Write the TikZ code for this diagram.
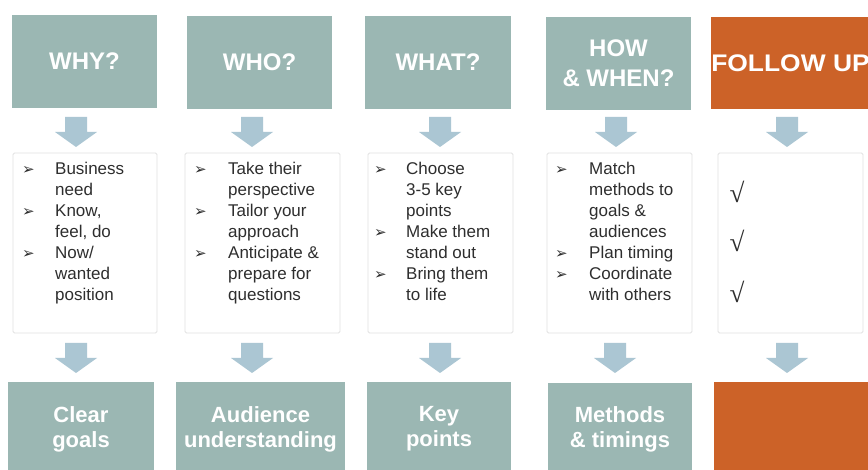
\documentclass[tikz,border=0pt]{standalone}
\usepackage{fontspec}
\setmainfont{Liberation Sans}
\newfontfamily\bulfont{DejaVu Sans}
\newfontfamily\chkfont{Liberation Serif}

\definecolor{sage}{HTML}{9BB7B3}
\definecolor{rust}{HTML}{CC6228}
\definecolor{sky}{HTML}{ABC6D3}
\definecolor{frame}{HTML}{E2E2E2}
\definecolor{ink}{HTML}{2E2E2E}

% list bullet (arrowhead) and tick mark
\newcommand{\bul}{{\bulfont\fontsize{15}{15}\selectfont ➢}}
\newcommand{\tick}{{\chkfont\fontsize{27}{27}\selectfont √}}

\tikzset{
  headbox/.style={fill=sage, text=white, inner sep=0pt, align=center,
    font=\bfseries\fontsize{24}{30}\selectfont,
    minimum height=93pt},
  resultbox/.style={fill=sage, text=white, inner sep=0pt, align=center,
    font=\bfseries\fontsize{22}{25}\selectfont,
    minimum height=88pt},
  listbox/.style={draw=frame, line width=0.8pt, fill=white, inner sep=0pt,
    rounded corners=1.5pt, minimum height=180pt},
  listtext/.style={text=ink, inner sep=0pt, anchor=north west, align=left,
    font=\fontsize{17}{21}\selectfont},
  tickmark/.style={text=ink, inner sep=0pt},
  pics/downarrow/.style={code={
    \fill[sky] (-11,0) -- (11,0) -- (11,15) -- (21,15) -- (0,30)
      -- (-21,15) -- (-11,15) -- cycle;}}
}

\begin{document}
\begin{tikzpicture}[x=1pt, y=-1pt]
  \useasboundingbox (0,0) rectangle (868,470);
  \fill[white] (0,0) rectangle (868,470);

  % question boxes along the top
  \node[headbox, minimum width=145pt] (why)  at (84.5,61.5) {WHY?};
  \node[headbox, minimum width=145pt] (who)  at (259.5,62.5) {WHO?};
  \node[headbox, minimum width=146pt] (what) at (438,62.5) {WHAT?};
  \node[headbox, minimum width=145pt] (how)  at (618.5,63.5) {HOW\\\& WHEN?};
  \node[headbox, fill=rust, minimum width=155pt, minimum height=92pt] (follow)
    at (790.5,63) {\scalebox{1.1}[1]{FOLLOW UP}};

  % arrows from the questions to the lists
  \pic at (76,117)  {downarrow};
  \pic at (252,117) {downarrow};
  \pic at (440,117) {downarrow};
  \pic at (616,117) {downarrow};
  \pic at (787,117) {downarrow};

  % framed lists
  \node[listbox, minimum width=144pt] (whybox)    at (85,243) {};
  \node[listbox, minimum width=155pt] (whobox)    at (262.5,243) {};
  \node[listbox, minimum width=145pt] (whatbox)   at (440.5,243) {};
  \node[listbox, minimum width=145pt] (howbox)    at (619.5,243) {};
  \node[listbox, minimum width=145pt] (followbox) at (790.5,243) {};

  \node[listtext] (whylist) at (22,159.6) {%
    \begin{tabular}{@{}p{33pt}@{}l@{}}
      \bul & Business\\ & need\\
      \bul & Know,\\ & feel, do\\
      \bul & Now/\\ & wanted\\ & position
    \end{tabular}};
  \node[listtext] (wholist) at (194,159.6) {%
    \begin{tabular}{@{}p{34pt}@{}l@{}}
      \bul & Take their\\ & perspective\\
      \bul & Tailor your\\ & approach\\
      \bul & Anticipate \&\\ & prepare for\\ & questions
    \end{tabular}};
  \node[listtext] (whatlist) at (374,159.6) {%
    \begin{tabular}{@{}p{32pt}@{}l@{}}
      \bul & Choose\\ & 3-5 key\\ & points\\
      \bul & Make them\\ & stand out\\
      \bul & Bring them\\ & to life
    \end{tabular}};
  \node[listtext] (howlist) at (555,159.6) {%
    \begin{tabular}{@{}p{34pt}@{}l@{}}
      \bul & Match\\ & methods to\\ & goals \&\\ & audiences\\
      \bul & Plan timing\\
      \bul & Coordinate\\ & with others
    \end{tabular}};

  \node[tickmark] (tick1) at (737,192) {\tick};
  \node[tickmark] (tick2) at (737,241) {\tick};
  \node[tickmark] (tick3) at (737,292) {\tick};

  % arrows from the lists to the outcomes
  \pic at (76,343)  {downarrow};
  \pic at (252,343) {downarrow};
  \pic at (440,343) {downarrow};
  \pic at (615,343) {downarrow};
  \pic at (787,343) {downarrow};

  % outcome boxes along the bottom
  \node[resultbox, minimum width=146pt] (goals)    at (81,426) {};
  \node[resultbox, minimum width=169pt] (audience) at (260.5,426) {};
  \node[resultbox, minimum width=144pt] (points)   at (439,426) {};
  \node[resultbox, minimum width=144pt] (methods)  at (620,427) {};
  \node[resultbox, fill=rust, minimum width=154pt] (result) at (791,426.5) {};

  \node[resultbox, fill=none, minimum height=0pt] at ([yshift=-3pt]goals.center) {Clear\\goals};
  \node[resultbox, fill=none, minimum height=0pt] at ([yshift=-3pt]audience.center) {Audience\\understanding};
  \node[resultbox, fill=none, minimum height=0pt] at ([yshift=-3pt]points.center) {Key\\points};
  \node[resultbox, fill=none, minimum height=0pt] at ([yshift=-2pt]methods.center) {Methods\\\& timings};
\end{tikzpicture}
\end{document}
